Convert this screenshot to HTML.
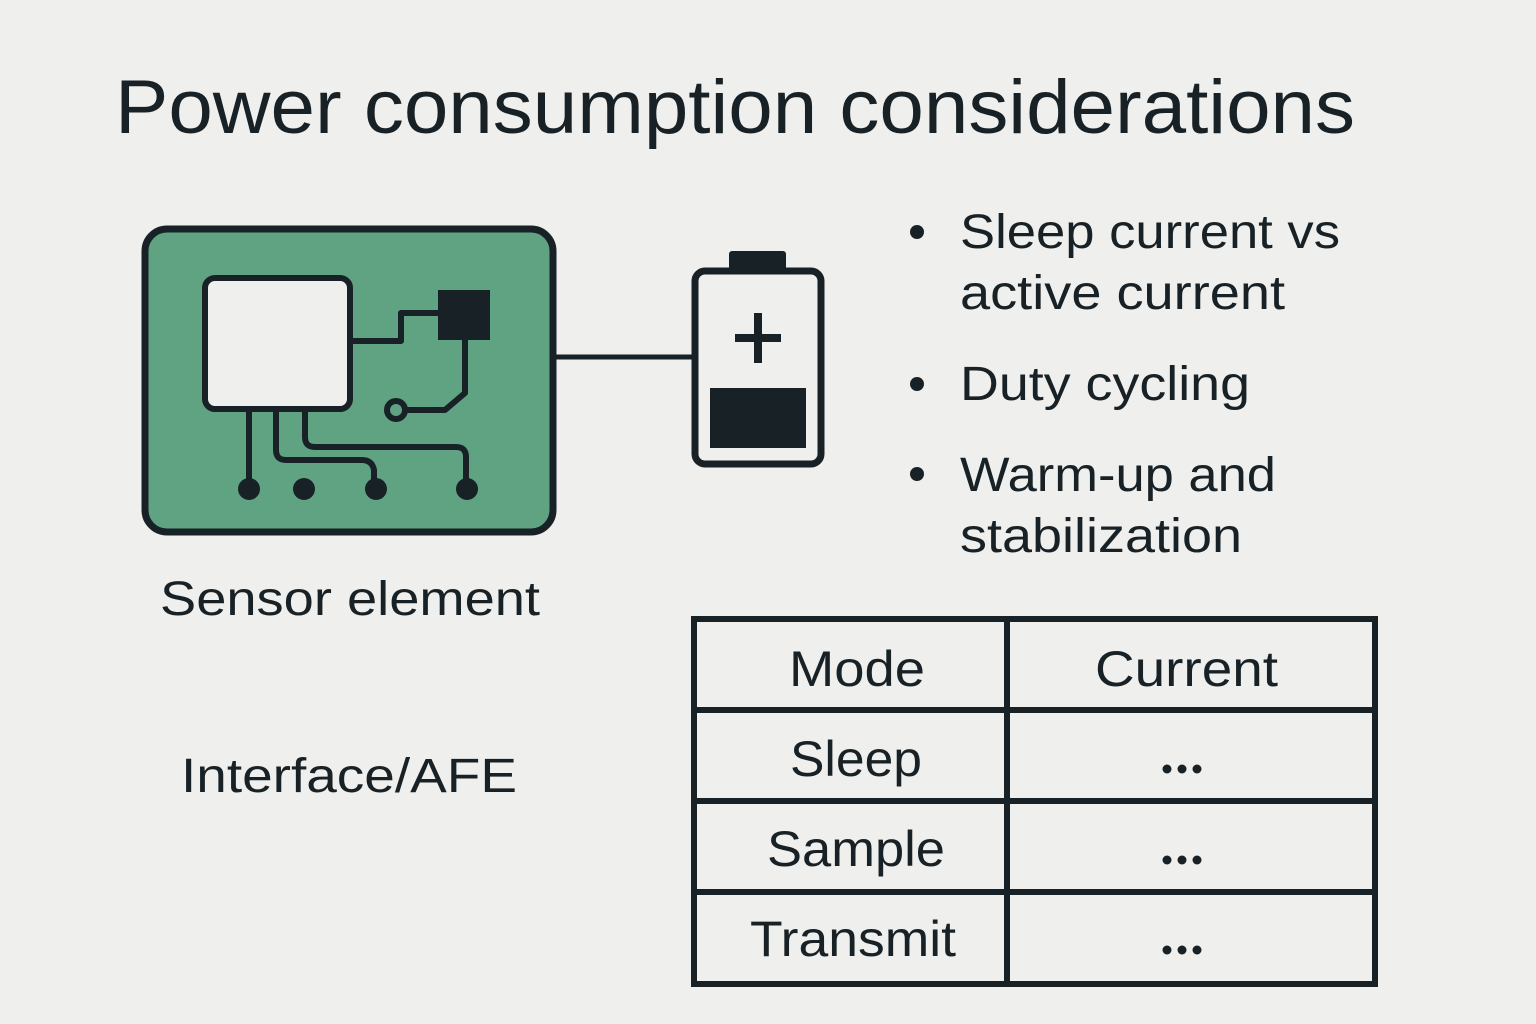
<!DOCTYPE html>
<html><head><meta charset="utf-8"><style>
html,body{margin:0;padding:0;background:#efefed;}
svg{display:block;}
text{font-family:"Liberation Sans",sans-serif;fill:#182226;}
</style></head><body>
<svg width="1536" height="1024" viewBox="0 0 1536 1024" xmlns="http://www.w3.org/2000/svg">
<rect width="1536" height="1024" fill="#efefed"/>
<text x="115" y="133" font-size="76" textLength="1240" lengthAdjust="spacingAndGlyphs">Power consumption considerations</text>

<!-- sensor board -->
<rect x="145" y="229" width="408" height="303" rx="22" fill="#5fa382" stroke="#182226" stroke-width="7"/>
<g fill="none" stroke="#182226" stroke-width="6" stroke-linejoin="round">
<rect x="205" y="278" width="145" height="131" rx="10" fill="#efefed"/>
<polyline points="350,341 401,341 401,313 440,313"/>
<polyline points="465,338 465,393 445,410 405,410"/>
<circle cx="396" cy="410" r="9"/>
<line x1="249" y1="409" x2="249" y2="488"/>
<path d="M276,409 V450 Q276,460 286,460 H362 Q372,460 374,470 V488"/>
<path d="M305,409 V437 Q305,447 315,447 H456 Q466,447 466,457 V488"/>
</g>
<rect x="438" y="290" width="52" height="50" fill="#182226"/>
<g fill="#182226">
<ellipse cx="249" cy="489" rx="11" ry="11"/>
<ellipse cx="304" cy="489" rx="11" ry="11"/>
<ellipse cx="376" cy="489" rx="11" ry="11"/>
<ellipse cx="467" cy="489" rx="11" ry="11"/>
</g>
<line x1="553" y1="357" x2="692" y2="357" stroke="#182226" stroke-width="5"/>

<!-- battery -->
<rect x="729" y="251" width="57" height="22" rx="3" fill="#182226"/>
<rect x="695" y="271" width="126" height="193" rx="10" fill="#efefed" stroke="#182226" stroke-width="7"/>
<rect x="710" y="388" width="96" height="60" fill="#182226"/>
<rect x="735" y="334" width="46" height="8" fill="#182226"/>
<rect x="754" y="313" width="8" height="50" fill="#182226"/>

<!-- bullets -->
<g fill="#182226">
<circle cx="917" cy="232" r="7"/><circle cx="917" cy="384" r="7"/><circle cx="917" cy="474" r="7"/>
</g>
<g font-size="48" lengthAdjust="spacingAndGlyphs">
<text x="960" y="248" textLength="380" lengthAdjust="spacingAndGlyphs">Sleep current vs</text>
<text x="960" y="309" textLength="325" lengthAdjust="spacingAndGlyphs">active current</text>
<text x="960" y="400" textLength="290" lengthAdjust="spacingAndGlyphs">Duty cycling</text>
<text x="960" y="491" textLength="316" lengthAdjust="spacingAndGlyphs">Warm-up and</text>
<text x="960" y="552" textLength="282" lengthAdjust="spacingAndGlyphs">stabilization</text>
<text x="160" y="615" textLength="380" lengthAdjust="spacingAndGlyphs">Sensor element</text>
<text x="181" y="792" textLength="336" lengthAdjust="spacingAndGlyphs">Interface/AFE</text>
</g>

<!-- table -->
<g fill="none" stroke="#182226" stroke-width="6">
<rect x="694" y="619" width="681" height="365"/>
<line x1="1007" y1="619" x2="1007" y2="984"/>
<line x1="694" y1="710" x2="1375" y2="710"/>
<line x1="694" y1="801" x2="1375" y2="801"/>
<line x1="694" y1="892" x2="1375" y2="892"/>
</g>
<g font-size="50">
<text x="789" y="686" textLength="136" lengthAdjust="spacingAndGlyphs">Mode</text>
<text x="1095" y="686" textLength="183" lengthAdjust="spacingAndGlyphs">Current</text>
<text x="790" y="776" textLength="132" lengthAdjust="spacingAndGlyphs">Sleep</text>
<text x="767" y="866" textLength="178" lengthAdjust="spacingAndGlyphs">Sample</text>
<text x="750" y="956" textLength="206" lengthAdjust="spacingAndGlyphs">Transmit</text>
</g>
<g fill="#182226">
<circle cx="1167" cy="769" r="4.5"/><circle cx="1182" cy="769" r="4.5"/><circle cx="1197" cy="769" r="4.5"/>
<circle cx="1167" cy="860" r="4.5"/><circle cx="1182" cy="860" r="4.5"/><circle cx="1197" cy="860" r="4.5"/>
<circle cx="1167" cy="950" r="4.5"/><circle cx="1182" cy="950" r="4.5"/><circle cx="1197" cy="950" r="4.5"/>
</g>
</svg>
</body></html>
